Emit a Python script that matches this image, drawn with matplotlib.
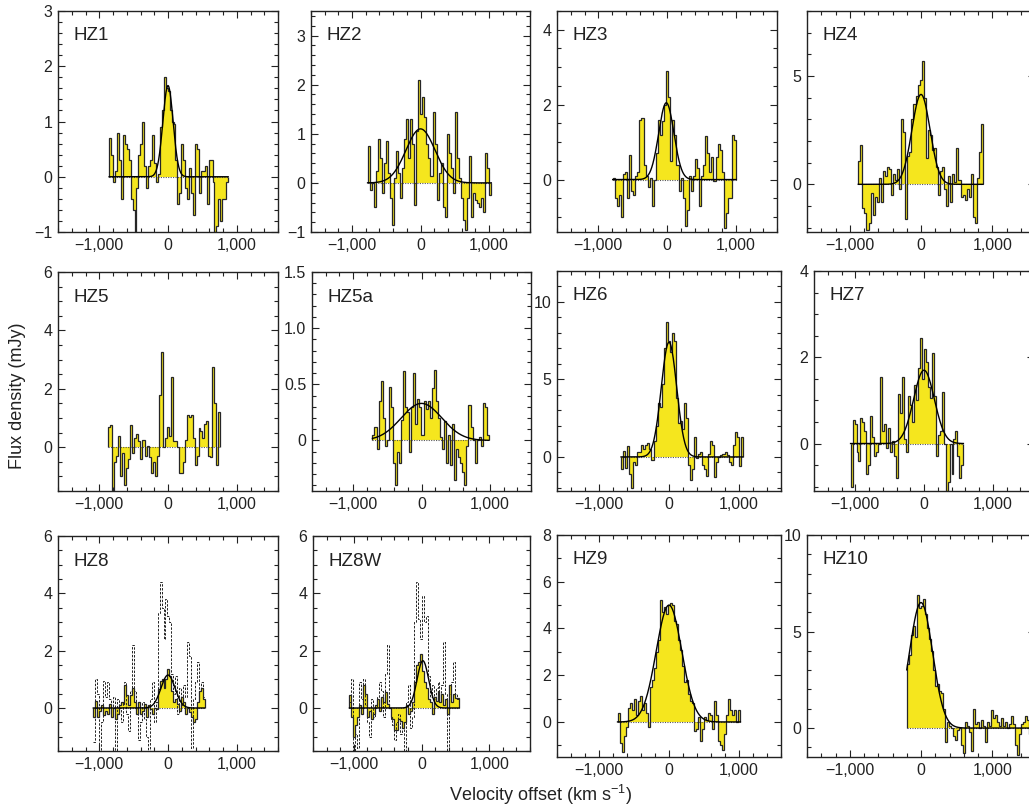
import matplotlib
matplotlib.use('Agg')
import matplotlib.pyplot as plt
from matplotlib.ticker import MultipleLocator, FuncFormatter
import numpy as np

plt.rcParams['font.family'] = ['Liberation Sans', 'DejaVu Sans']
plt.rcParams['mathtext.default'] = 'regular'

# --- DATA (mJy per channel) ---
# spectrum edges in km/s, fit = (peak mJy, centre km/s, FWHM km/s)
hz1_range = (-856, 875)
hz1_flux = [0.7, 0.4, -0.1, 0.1, 0.8, 0.3, -0.4, 0.75, 0.6, 0.5, 0.3, -0.4, -0.6, -1.0,
            -0.2, 0.4, 0.6, 1.0, 0.2, -0.2, 0.2, 0.3, 0.75, 0.25, -0.1, 0.05, 0.9, 1.2,
            1.8, 1.6, 1.55, 1.2, 1.0, 0.95, 0.3, -0.5, -0.3, 0.6, 0.3, -0.2, -0.4, 0.15,
            -0.3, -0.7, 0.6, 0.5, -0.3, 0.1, 0.1, 0.2, -0.5, 0.3, 0.3, -0.1, -1.0, -0.9,
            -0.4, -0.8, -0.4, -0.4, -0.1]
hz1_fit = (1.65, 0, 175)

hz2_range = (-773, 1035)
hz2_flux = [0.75, -0.15, 0.0, -0.5, 0.25, 0.9, 0.5, -0.2, 0.4, 0.85, 0.2, -0.3, -0.85,
            0.1, 0.65, 0.2, -0.3, 0.3, 0.9, 1.3, 0.5, 1.3, 0.8, -0.45, 1.05, 2.1, 1.4,
            1.75, 1.35, 0.8, 0.5, 0.15, 1.45, 0.8, -0.35, 0.2, 0.4, -0.5, -0.7, 1.0, 0.6,
            0.3, -0.2, 1.45, 0.5, 0.1, -0.3, -0.75, -0.95, -0.3, 0.55, -0.7, -0.2, -0.35,
            -0.4, -0.5, -0.3, -0.6, 0.6, 0.3, -0.25]
hz2_fit = (1.1, 0, 500)

hz3_range = (-790, 1005)
hz3_flux = [0.05, -0.5, -0.7, -0.4, -1.0, 0.15, 0.2, -0.5, 0.65, -0.3, -0.4, 0.1, 0.2,
            1.6, 1.65, 0.4, 0.1, -0.2, 0.05, -0.7, 0.0, 0.7, 1.6, 1.2, 1.55, 2.0, 2.9,
            2.2, 0.5, 1.6, 1.2, 0.4, -0.3, 0.05, -0.5, -1.25, -0.8, 0.1, -0.3, 0.1, 0.55,
            0.3, -0.7, 0.1, 0.4, 1.15, 0.7, 0.2, 0.6, -0.05, 0.6, 0.95, 0.8, 0.2, -1.3,
            -0.9, -0.5, -0.5, 1.2, 1.05]
hz3_fit = (2.05, -10, 260)

hz4_range = (-880, 870)
hz4_flux = [1.1, 1.8, -1.1, -1.3, -2.1, -1.8, -0.4, -1.4, -0.6, -0.8, 0.3, -0.8, 0.6,
            0.4, 0.8, 0.7, -0.5, 0.5, 0.2, 0.7, -0.2, 3.0, 2.4, -1.6, 1.3, 1.5, 3.0, 3.7,
            4.1, 4.6, 4.8, 5.7, 4.0, 1.2, 2.5, 2.3, 1.6, 1.7, 0.8, -0.5, 0.6, 0.8, -0.2,
            -1.0, 0.4, -0.8, 0.5, 0.1, 1.7, 0.2, -0.6, -0.5, -0.7, -0.2, -0.6, 0.5, -1.5,
            -1.8, 0.3, 1.5, 2.8]
hz4_fit = (4.15, 0, 300)

hz5_range = (-870, 758)
hz5_flux = [0.7, 0.75, -1.5, -0.5, -0.3, 0.4, -1.0, -0.2, -1.3, -0.7, -0.4, 0.75, -0.2,
            0.3, 0.45, 0.2, -0.4, 0.25, 0.25, -0.3, 0.05, -0.35, -0.9, -0.5, -1.0, -0.3,
            1.8, 3.25, 0.0, 0.3, 0.7, 0.4, 2.4, 0.2, 0.2, 0.0, -0.9, -0.9, -0.5, 0.25,
            1.1, 1.05, 1.1, 0.3, -0.6, -0.3, 0.65, 0.55, 0.3, 0.8, 0.9, -0.3, -0.35, 2.75,
            1.5, -0.6, 1.2]
hz5_fit = None

hz5a_range = (-717, 985)
hz5a_flux = [0.05, 0.12, -0.08, 0.35, 0.53, 0.2, -0.05, 0.0, 0.48, 0.3, -0.2, -0.4, -0.1,
             -0.2, 0.18, 0.62, 0.3, 0.25, -0.1, 0.3, 0.6, 0.15, 0.37, 0.3, 0.05, 0.35,
             0.28, 0.35, 0.2, 0.47, 0.63, 0.35, 0.2, 0.03, -0.08, 0.17, -0.2, 0.05, -0.22,
             0.15, -0.35, -0.08, -0.15, -0.2, -0.28, -0.4, -0.05, 0.32, 0.12, 0.0, -0.2,
             0.0, 0.03, -0.05, 0.33, 0.3, 0.05]
hz5a_fit = (0.33, 0, 700)

hz6_range = (-685, 1054)
hz6_flux = [-0.8, 0.4, -0.7, 0.7, -1.1, -2.0, -0.3, -0.5, 0.3, 0.3, 0.8, 0.5, 0.8, 0.9,
            0.5, -0.2, 1.0, 2.0, 3.5, 3.2, 4.7, 7.0, 8.7, 7.5, 6.8, 8.0, 7.5, 3.8, 2.2,
            2.3, 1.8, 3.5, 2.5, -0.5, -1.5, -0.8, 1.3, -0.1, 0.2, 0.3, -0.5, -0.8, -1.2,
            0.2, 1.0, 0.8, -1.3, -0.3, 0.0, 0.1, 0.2, 0.3, 0.1, -0.3, -0.5, 0.8, 1.6, 1.3,
            -0.6, 1.3]
hz6_fit = (7.4, 0, 260)

hz7_range = (-1068, 573)
hz7_flux = [-1.0, 0.55, 0.45, -0.2, -0.4, 0.6, 0.5, 0.3, -0.7, -0.5, 0.65, 0.15, -0.3,
            -0.2, 0.0, 1.55, 0.3, 0.45, -0.1, 0.35, -0.2, 0.05, -0.3, -0.8, 1.15, 0.7,
            1.55, 0.1, -0.2, 1.1, 0.9, 0.5, 1.35, 1.0, 1.75, 2.45, 1.5, 2.2, 1.9, 1.3,
            1.05, 2.1, 1.1, -0.3, 0.2, 0.3, 1.2, 0.0, -1.1, -0.9, 0.0, -0.7, 0.1, 0.3,
            -0.3, -0.8, -0.5]
hz7_fit = (1.7, 0, 355)

hz8_range = (-1087, 531)
hz8_flux = [-0.3, 0.25, -0.3, -0.1, 0.1, -0.25, -0.1, -0.2, 0.15, -0.3, 0.0, -0.4, -0.2,
            0.1, 0.2, 0.15, 0.8, 0.45, 0.1, 0.45, 0.7, 0.2, -0.2, 0.2, -0.2, -0.1, 0.15,
            -0.3, 0.1, -0.05, -0.2, 0.0, -0.05, 0.65, 0.95, 1.0, 0.7, 1.0, 1.35, 1.1, 0.6,
            0.2, 0.3, 0.15, -0.1, 0.4, 0.2, -0.2, 0.0, -0.15, -0.3, -0.5, -0.4, 0.2, 0.6,
            0.7, 0.3]
hz8_other = [-1.2, 1.0, 0.5, -1.5, -0.5, 0.95, 0.4, 0.9, 0.3, -0.2, 0.4, -1.6, 0.3, 0.0,
             -0.5, 0.2, 0.9, -0.2, -0.8, 0.6, 2.2, 0.6, -0.2, -1.1, -0.5, 0.2, -0.4, -1.0,
             -1.5, 0.3, 0.9, -0.5, 0.2, 3.3, 4.4, 3.5, 2.4, 3.8, 3.2, 3.0, 1.2, 0.5, 1.1,
             -0.2, 0.7, 0.1, 0.8, 0.4, 2.3, 1.8, -1.4, 0.3, 0.9, 1.6, 0.6, 0.9, 0.4]
hz8_fit = (1.15, 0, 240)

hz8w_range = (-1063, 554)
hz8w_flux = [0.45, -0.3, -1.0, -0.6, -0.3, 0.1, -0.2, 0.8, 0.5, -0.3, -0.1, -0.4, -0.2,
             0.1, 0.3, -0.1, 0.4, 0.2, 0.55, 0.15, 0.0, -0.3, -0.4, -0.75, -0.75, -0.4,
             -0.45, -0.7, -0.5, 0.1, -0.2, -0.1, 0.2, 0.9, 1.5, 1.6, 1.9, 1.3, 0.9, 0.7,
             0.3, 0.2, -0.2, 0.4, 0.25, 0.6, 0.2, 0.5, 0.1, 0.3, -0.2, 0.8, 0.2, 0.5, 0.35,
             0.35]
hz8w_other = [0.2, 1.0, -1.5, -0.9, -1.4, 0.9, 0.3, 1.0, 0.1, -0.5, -1.0, 0.3, -0.3, 0.0,
              0.4, 0.9, 0.6, -0.3, 1.2, 2.2, 0.0, -0.4, -0.6, -1.1, -0.5, -0.2, -0.9,
              -0.5, -1.5, 0.2, 0.8, -0.7, -0.3, 3.0, 4.4, 3.1, 2.4, 3.9, 3.0, 3.2, 1.1,
              0.4, 0.8, 0.3, 0.7, 0.9, 0.2, 0.8, 2.3, 0.5, -1.6, 0.5, 0.9, 1.6, 0.5, 0.3]
hz8w_fit = (1.65, 20, 200)

hz9_range = (-735, 1020)
hz9_flux = [0.4, -0.9, -1.3, -0.6, -0.2, 0.6, 0.8, 0.5, 1.0, 0.3, 0.9, 1.1, 0.5, 0.8,
            0.4, -0.2, 1.5, 1.8, 2.3, 3.0, 3.5, 5.2, 4.7, 4.9, 4.6, 5.0, 5.1, 5.0, 4.3,
            4.2, 3.5, 3.1, 2.4, 1.7, 1.8, 1.2, 0.9, 0.8, -0.4, -0.3, 0.2, -0.8, -0.3, 0.2,
            0.1, 0.4, 0.3, -0.3, 0.9, 0.3, -0.8, -1.0, -1.2, -0.5, 0.3, 1.0, 0.5, 0.3,
            0.5, 0.0, 0.5]
hz9_fit = (5.0, 0, 430)

hz10_range = (-200, 1600)
hz10_flux = [3.3, 3.8, 4.8, 5.3, 4.7, 6.9, 6.2, 6.3, 6.7, 5.9, 5.2, 4.6, 4.0, 3.0, 2.2,
             2.3, 1.9, 1.8, 1.0, -0.7, 0.3, 0.1, 0.0, -0.4, -0.6, -0.1, 0.0, -0.9, -1.3,
             0.3, 0.1, -0.2, -1.2, 1.0, 0.2, 0.3, 0.0, 0.4, 0.1, -0.7, 0.3, 0.1, 0.95, 0.5,
             0.7, 0.3, 0.1, 0.5, 0.1, 0.3, 0.0, 0.2, 0.6, 0.2, -0.9, -1.4, -0.3, 0.2, 0.3,
             0.6, 0.4, -0.3, 0.2, 0.1]
hz10_fit = (6.5, 0, 380)

names = ['HZ1', 'HZ2', 'HZ3', 'HZ4', 'HZ5', 'HZ5a', 'HZ6', 'HZ7', 'HZ8', 'HZ8W', 'HZ9', 'HZ10']
spectra = [hz1_flux, hz2_flux, hz3_flux, hz4_flux, hz5_flux, hz5a_flux,
           hz6_flux, hz7_flux, hz8_flux, hz8w_flux, hz9_flux, hz10_flux]
ranges = [hz1_range, hz2_range, hz3_range, hz4_range, hz5_range, hz5a_range,
          hz6_range, hz7_range, hz8_range, hz8w_range, hz9_range, hz10_range]
fits = [hz1_fit, hz2_fit, hz3_fit, hz4_fit, hz5_fit, hz5a_fit,
        hz6_fit, hz7_fit, hz8_fit, hz8w_fit, hz9_fit, hz10_fit]
others = {'HZ8': hz8_other, 'HZ8W': hz8w_other}

# --- LAYOUT: pixel boxes (left, right, top, bottom), y limits, tick steps ---
W, H = 1029, 808
boxes = {
    'HZ1': (58, 278, 11, 232), 'HZ2': (311, 530, 11, 232),
    'HZ3': (557, 777, 11, 232), 'HZ4': (807, 1035, 11, 232),
    'HZ5': (58, 278, 272, 491), 'HZ5a': (312, 531, 272, 491),
    'HZ6': (557, 781, 271, 491), 'HZ7': (814, 1034, 271, 491),
    'HZ8': (58, 278, 536, 751), 'HZ8W': (313, 530, 536, 751),
    'HZ9': (557, 781, 535, 757), 'HZ10': (807, 1035, 535, 757),
}
yaxes = {  # ylim, major step, minor step
    'HZ1': ((-1, 3), 1, 0.2), 'HZ2': ((-1, 3.5), 1, 0.2),
    'HZ3': ((-1.4, 4.5), 2, 0.5), 'HZ4': ((-2.2, 8), 5, 1),
    'HZ5': ((-1.5, 6), 2, 0.5), 'HZ5a': ((-0.45, 1.5), 0.5, 0.1),
    'HZ6': ((-2.2, 12), 5, 1), 'HZ7': ((-1.1, 4), 2, 0.5),
    'HZ8': ((-1.5, 6), 2, 0.5), 'HZ8W': ((-1.5, 6), 2, 0.5),
    'HZ9': ((-1.5, 8), 2, 1), 'HZ10': ((-1.5, 10), 5, 1),
}
yellow = '#f5e61e'
edge = '#262626'


def fmt_int(v, pos):
    return f'{round(v):,d}'.replace('-', '\u2212')


def fmt_half(v, pos):
    v = round(v, 2)
    return '0' if v == 0 else f'{v:.1f}'.replace('-', '\u2212')


fig = plt.figure(figsize=(W / 100, H / 100), dpi=100)

for name, flux, vr, fit in zip(names, spectra, ranges, fits):
    L, R, T, B = boxes[name]
    ax = fig.add_axes([L / W, 1 - B / H, (R - L) / W, (B - T) / H])
    flux = np.asarray(flux, dtype=float)
    edges = np.linspace(vr[0], vr[1], len(flux) + 1)

    ax.stairs(flux, edges, baseline=0, fill=True, color=yellow, lw=0, zorder=1)
    ax.plot(vr, [0, 0], color='#555555', lw=0.8, ls=(0, (1, 1.2)), zorder=2)
    if name in others:
        ax.stairs(np.asarray(others[name]), edges, baseline=None, color='#222222',
                  lw=0.7, ls=(0, (2.5, 1.5)), zorder=3)
    ax.stairs(flux, edges, baseline=0, fill=False, color=edge, lw=0.9, zorder=4)
    if fit is not None:
        amp, cen, fwhm = fit
        vv = np.linspace(vr[0], vr[1], 600)
        sig = fwhm / 2.3548
        ax.plot(vv, amp * np.exp(-0.5 * ((vv - cen) / sig) ** 2), color='k', lw=1.0, zorder=5)

    ylim, major, minor = yaxes[name]
    ax.set_xlim(-1600, 1600)
    ax.set_ylim(*ylim)
    ax.xaxis.set_major_locator(MultipleLocator(1000))
    ax.xaxis.set_minor_locator(MultipleLocator(200))
    ax.yaxis.set_major_locator(MultipleLocator(major))
    ax.yaxis.set_minor_locator(MultipleLocator(minor))
    ax.xaxis.set_major_formatter(FuncFormatter(fmt_int))
    ax.yaxis.set_major_formatter(FuncFormatter(fmt_half if name == 'HZ5a' else fmt_int))
    ax.tick_params(which='both', direction='in', top=True, right=True,
                   labelsize=11.5, width=0.8, pad=4, colors='#222222')
    ax.tick_params(which='major', length=5)
    ax.tick_params(which='minor', length=3)
    for s in ax.spines.values():
        s.set_linewidth(1.0)
        s.set_color('#222222')
    ax.annotate(name, xy=(0, 1), xycoords='axes fraction', xytext=(11, -18),
                textcoords='offset points', ha='left', va='center', fontsize=13.5,
                color='#222222')

fig.text(0.017, 0.51, 'Flux density (mJy)', rotation=90, ha='center', va='center',
         fontsize=13, color='#222222')
fig.text(0.525, 0.016, 'Velocity offset (km s$^{\u22121}$)', ha='center', va='center',
         fontsize=13, color='#222222')

fig.savefig('out.png', dpi=100)
